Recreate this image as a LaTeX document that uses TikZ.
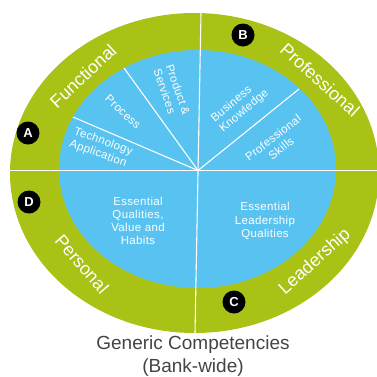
\documentclass[tikz,border=0pt]{standalone}
\usepackage{fontspec}
\setmainfont{Liberation Sans}
\newfontfamily\secfont[LetterSpace=3]{Liberation Sans}
\definecolor{ringgreen}{RGB}{170,193,22}
\definecolor{coreblue}{RGB}{88,195,240}
\definecolor{captiongray}{RGB}{68,68,68}
\begin{document}
\begin{tikzpicture}[x=1pt,y=-1pt,
  ringlabel/.style={text=white,font=\fontsize{18}{18}\selectfont,inner sep=0pt},
  seclabel/.style={text=white,font=\secfont\fontsize{11.5}{13.2}\selectfont,inner sep=0pt},
  badge/.style={circle,fill=black,text=white,minimum size=23pt,inner sep=0pt,font=\bfseries\fontsize{13}{13}\selectfont},
  divider/.style={draw=white,line width=1.1pt}]
\useasboundingbox (0,0) rectangle (377,376);
% outer ring
\fill[ringgreen] (194.5,173) ellipse [x radius=184.5, y radius=160];
% core
\fill[coreblue] (197.5,169) ellipse [x radius=138.5, y radius=119];
% dividers
\coordinate (c) at (198,170.5);
\coordinate (L) at (10,170.5);
\coordinate (R) at (380,170.5);
\coordinate (T) at (201,13);
\coordinate (B) at (195,333);
\coordinate (p1) at (73,117);
\coordinate (p2) at (124,68);
\coordinate (p3) at (299,89);
\draw[divider] (L) -- (R);
\draw[divider] (T) -- (B);
\draw[divider] (c) -- (p1);
\draw[divider] (c) -- (p2);
\draw[divider] (c) -- (p3);
% ring labels
\node[ringlabel,rotate=43] (fun) at (83,76) {Functional};
\node[ringlabel,rotate=-42] (pro) at (320,80) {Professional};
\node[ringlabel,rotate=-49] (per) at (82,264) {Personal};
\node[ringlabel,rotate=42] (lea) at (315,262) {Leadership};
% badges
\node[badge] (bA) at (28,133) {A};
\node[badge] (bB) at (243,35) {B};
\node[badge] (bC) at (234,302) {C};
\node[badge] (bD) at (29,202) {D};
% sector labels
\node[seclabel,rotate=-20,align=left] (tech) at (101,148) {Technology\\Application};
\node[seclabel,rotate=-43] (proc) at (123,112) {Process};
\node[seclabel,rotate=-71,align=left] (prod) at (172,92) {Product \&\\Services};
\node[seclabel,rotate=40,align=left] (bus) at (240,106) {Business\\Knowledge};
\node[seclabel,rotate=38,align=center] (psk) at (277,143) {Professional\\Skills};
\node[seclabel,align=center] (eqv) at (138,221) {Essential\\Qualities,\\Value and\\Habits};
\node[seclabel,align=center] (elq) at (265,221) {Essential\\Leadership\\Qualities};
% caption
\node[text=captiongray,font=\fontsize{19}{23}\selectfont,align=center,inner sep=0pt] (cap) at (193,356) {Generic Competencies\\(Bank-wide)};
\end{tikzpicture}
\end{document}
